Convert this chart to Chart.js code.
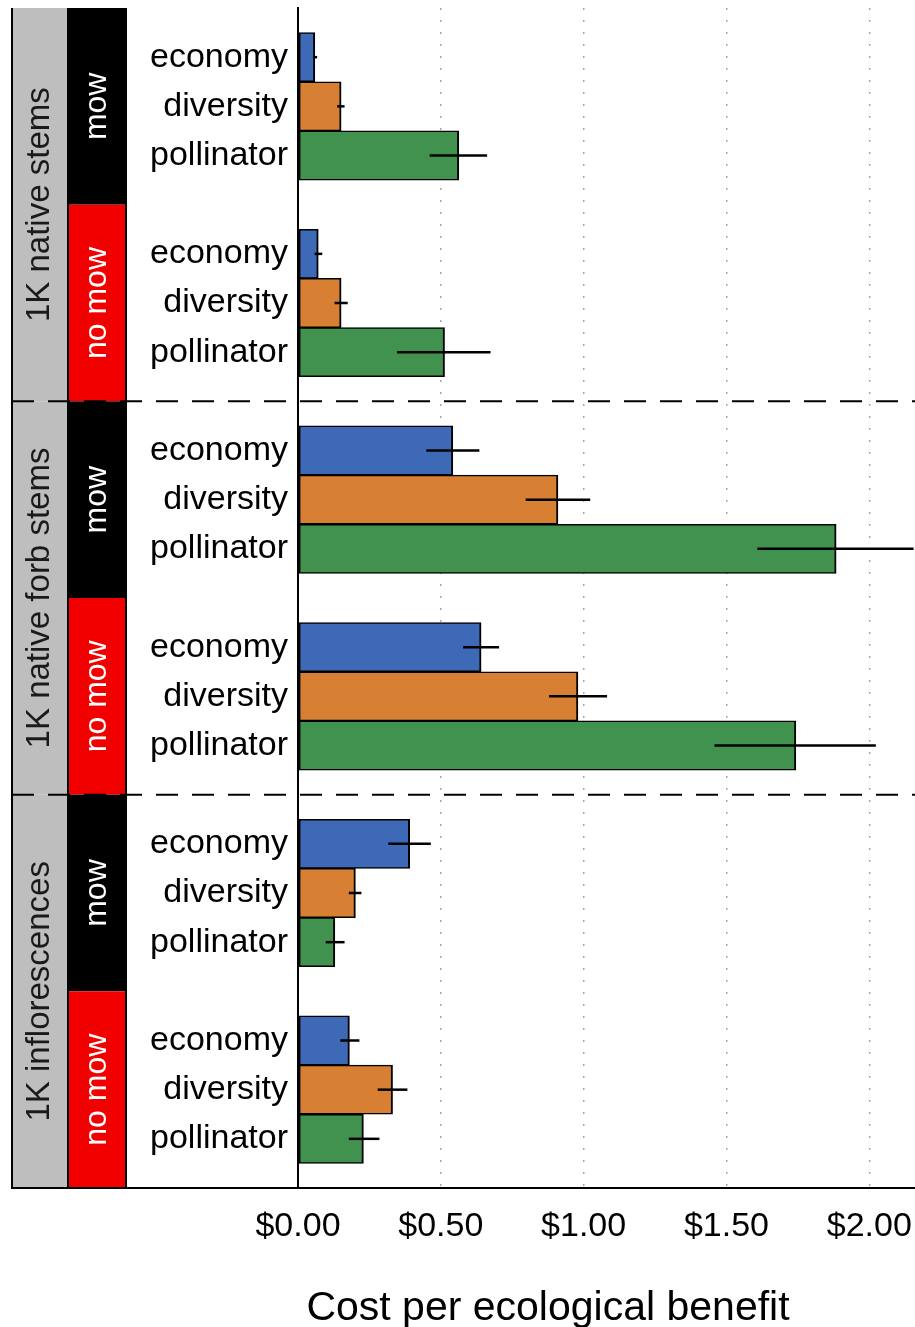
<!DOCTYPE html>
<html>
<head>
<meta charset="utf-8">
<script src="https://cdn.jsdelivr.net/npm/chart.js@4/dist/chart.umd.min.js"></script>
<style>
  html, body { margin: 0; padding: 0; background: #ffffff; }
  #wrap { width: 915px; height: 1327px; }
</style>
</head>
<body>
<div id="wrap"><canvas id="chart"></canvas></div>
<script>
// Facets (outer strip), treatments (inner strip) and seed mixes (bars)
const measures = ['1K native stems', '1K native forb stems', '1K inflorescences'];
const treatments = ['mow', 'no mow'];
const mixes = ['economy', 'diversity', 'pollinator'];

// One value per panel, in order:
// stems/mow, stems/no mow, forb stems/mow, forb stems/no mow, inflorescences/mow, inflorescences/no mow
const economyCost    = [0.059, 0.071, 0.542, 0.641, 0.391, 0.180];
const economyLow     = [0.053, 0.058, 0.449, 0.578, 0.316, 0.148];
const economyHigh    = [0.067, 0.085, 0.635, 0.704, 0.465, 0.215];

const diversityCost  = [0.151, 0.151, 0.910, 0.980, 0.201, 0.331];
const diversityLow   = [0.137, 0.128, 0.797, 0.879, 0.178, 0.279];
const diversityHigh  = [0.163, 0.174, 1.023, 1.082, 0.222, 0.383];

const pollinatorCost = [0.563, 0.513, 1.884, 1.743, 0.129, 0.229];
const pollinatorLow  = [0.461, 0.347, 1.608, 1.458, 0.097, 0.178];
const pollinatorHigh = [0.662, 0.674, 2.155, 2.023, 0.163, 0.285];

const costTicks = [0, 0.5, 1, 1.5, 2];
const axisTitle = 'Cost per ecological benefit';

// ---- styling ----
const mixColors = ['#3E69B6', '#D77F32', '#42924F'];
const treatmentColors = ['#000000', '#F20000'];
const measureStripColor = '#BEBEBE';
const FONT = "'Liberation Sans', Arial, Helvetica, sans-serif";

// Each panel spans 4 slots: bars sit on slots 1..3, half a slot of air on each side
const SLOTS = 4;
const panelCount = measures.length * treatments.length;
const rowLabels = [];
for (let p = 0; p < panelCount; p++) {
  rowLabels.push('');
  mixes.forEach(m => rowLabels.push(m));
}
rowLabels.push('');

const seriesCost = [economyCost, diversityCost, pollinatorCost];
const seriesLow = [economyLow, diversityLow, pollinatorLow];
const seriesHigh = [economyHigh, diversityHigh, pollinatorHigh];

function rowIndex(panel, mix) { return panel * SLOTS + 1 + mix; }

const datasets = mixes.map((name, m) => {
  const data = rowLabels.map(() => null);
  seriesCost[m].forEach((v, p) => { data[rowIndex(p, m)] = v; });
  return {
    label: name,
    data,
    backgroundColor: mixColors[m],
    borderColor: '#000000',
    borderWidth: { top: 1.5, bottom: 1.5, left: 2, right: 2 },
    borderSkipped: false,
    grouped: false,
    barPercentage: 1,
    categoryPercentage: 1
  };
});

// strip column edges and title placement
const stripX = { outerLeft: 12, split: 68, innerRight: 126 };
const titleCenterX = 548;
const titleBaselineY = 1320;

const errorBars = {
  id: 'errorBars',
  afterDatasetsDraw(chart) {
    const { ctx, scales: { x, y } } = chart;
    ctx.save();
    ctx.strokeStyle = '#000000';
    ctx.lineWidth = 2.5;
    mixes.forEach((_, m) => {
      for (let p = 0; p < panelCount; p++) {
        const py = y.getPixelForValue(rowIndex(p, m));
        ctx.beginPath();
        ctx.moveTo(x.getPixelForValue(seriesLow[m][p]), py);
        ctx.lineTo(x.getPixelForValue(seriesHigh[m][p]), py);
        ctx.stroke();
      }
    });
    ctx.restore();
  }
};

const facetStrips = {
  id: 'facetStrips',
  afterDraw(chart) {
    const { ctx, chartArea, scales: { y } } = chart;
    const top = chartArea.top, bottom = chartArea.bottom;
    ctx.save();

    // outer strips: measure
    measures.forEach((name, f) => {
      const y0 = y.getPixelForValue(f * SLOTS * treatments.length);
      const y1 = y.getPixelForValue((f + 1) * SLOTS * treatments.length);
      ctx.fillStyle = measureStripColor;
      ctx.fillRect(stripX.outerLeft, y0, stripX.split - stripX.outerLeft, y1 - y0);
      ctx.save();
      ctx.translate((stripX.outerLeft + stripX.split) / 2, (y0 + y1) / 2);
      ctx.rotate(-Math.PI / 2);
      ctx.fillStyle = '#1a1a1a';
      ctx.font = '33px ' + FONT;
      ctx.textAlign = 'center';
      ctx.textBaseline = 'middle';
      ctx.fillText(name, 0, 0);
      ctx.restore();

      // inner strips: mowing treatment
      treatments.forEach((t, k) => {
        const panel = f * treatments.length + k;
        const a = y.getPixelForValue(panel * SLOTS);
        const b = y.getPixelForValue((panel + 1) * SLOTS);
        ctx.fillStyle = treatmentColors[k];
        ctx.fillRect(stripX.split, a, stripX.innerRight - stripX.split, b - a);
        ctx.save();
        ctx.translate((stripX.split + stripX.innerRight) / 2, (a + b) / 2);
        ctx.rotate(-Math.PI / 2);
        ctx.fillStyle = '#ffffff';
        ctx.font = '32px ' + FONT;
        ctx.textAlign = 'center';
        ctx.textBaseline = 'middle';
        ctx.fillText(t, 0, 0);
        ctx.restore();
      });
    });

    // strip outlines
    ctx.strokeStyle = '#000000';
    ctx.lineWidth = 2;
    [stripX.outerLeft, stripX.split, stripX.innerRight].forEach(xx => {
      ctx.beginPath();
      ctx.moveTo(xx, top);
      ctx.lineTo(xx, bottom);
      ctx.stroke();
    });

    // bottom rule continues under the strips
    ctx.beginPath();
    ctx.moveTo(stripX.outerLeft - 1, bottom);
    ctx.lineTo(chartArea.left, bottom);
    ctx.stroke();

    // dashed separators between measures
    ctx.setLineDash([22, 14]);
    for (let f = 1; f < measures.length; f++) {
      const yy = y.getPixelForValue(f * SLOTS * treatments.length);
      ctx.beginPath();
      ctx.moveTo(stripX.outerLeft, yy);
      ctx.lineTo(chartArea.right, yy);
      ctx.stroke();
    }
    ctx.setLineDash([]);

    // x axis title
    ctx.fillStyle = '#000000';
    ctx.font = '41px ' + FONT;
    ctx.textAlign = 'center';
    ctx.textBaseline = 'alphabetic';
    ctx.fillText(axisTitle, titleCenterX, titleBaselineY);
    ctx.restore();
  }
};

new Chart(document.getElementById('chart'), {
  type: 'bar',
  data: { labels: rowLabels, datasets },
  plugins: [errorBars, facetStrips],
  options: {
    indexAxis: 'y',
    responsive: true,
    maintainAspectRatio: false,
    animation: false,
    layout: { padding: { top: 8, left: 0, right: 0, bottom: 0 } },
    plugins: { legend: { display: false }, tooltip: { enabled: false } },
    scales: {
      y: {
        type: 'category',
        offset: false,
        grid: { display: false, drawTicks: false },
        border: { display: true, color: '#000000', width: 2 },
        ticks: {
          autoSkip: false,
          padding: 10,
          color: '#000000',
          font: { family: FONT, size: 34 }
        },
        afterFit(scale) {
          scale.width = 298;
          scale.paddingTop = 0;
          scale.paddingBottom = 0;
        }
      },
      x: {
        type: 'linear',
        min: 0,
        max: 2.16,
        grid: {
          drawTicks: false,
          lineWidth: 1.5,
          color: ctx => (ctx.tick && ctx.tick.value === 0) ? 'rgba(0,0,0,0)' : '#A8A8A8'
        },
        border: { display: true, color: '#000000', width: 2, dash: [2, 10] },
        afterBuildTicks(scale) { scale.ticks = costTicks.map(v => ({ value: v })); },
        ticks: {
          padding: 18,
          color: '#000000',
          font: { family: FONT, size: 34 },
          callback: v => '$' + Number(v).toFixed(2)
        },
        title: { display: false },
        afterFit(scale) {
          scale.height = 139;
          scale.paddingLeft = 0;
          scale.paddingRight = 0;
        }
      }
    }
  }
});
</script>
</body>
</html>
